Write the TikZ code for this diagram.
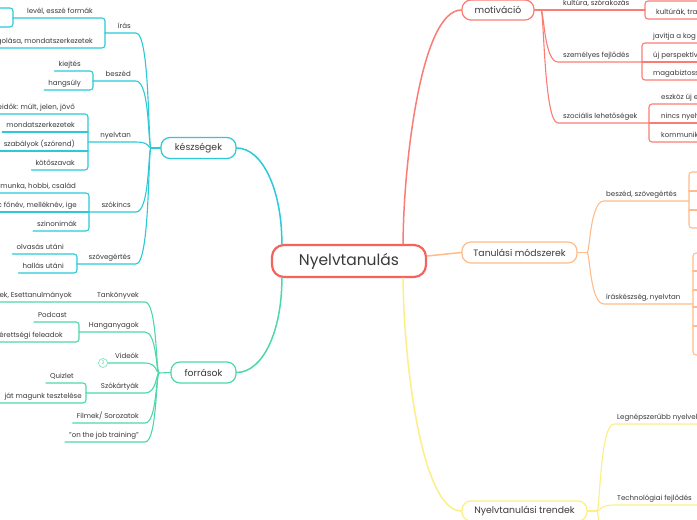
\documentclass[tikz,border=0pt]{standalone}
\usepackage{fontspec}
\setmainfont{Poppins}
\usetikzlibrary{calc}

\definecolor{ink}{HTML}{3A3A3A}
\definecolor{rootred}{HTML}{F4645D}
\definecolor{cskill}{HTML}{2BCAD6}
\definecolor{csource}{HTML}{4ED8AA}
\definecolor{cmotiv}{HTML}{FA7D75}
\definecolor{cmethod}{HTML}{FFBC8A}
\definecolor{ctrend}{HTML}{FCEF86}

\begin{document}
\begin{tikzpicture}[x=1pt, y=-1pt, line cap=round,
  skillline/.style={draw=cskill, line width=1.1pt},
  sourceline/.style={draw=csource, line width=1.1pt},
  motivline/.style={draw=cmotiv, line width=1.1pt},
  methodline/.style={draw=cmethod, line width=1.1pt},
  trendline/.style={draw=ctrend, line width=1.1pt},
  mainline/.style={line width=1.5pt},
  bracket/.style={rounded corners=3pt},
  lbl/.style={inner xsep=4pt, inner ysep=2.5pt, text height=5.5pt, text depth=1.5pt,
    font=\fontsize{7.05}{8}\selectfont, text=ink},
  topic/.style={draw=#1, line width=1.2pt, fill=white, rounded corners=9pt,
    minimum height=21pt, inner sep=0pt, font=\fontsize{9.3}{10}\selectfont, text=ink},
  rootbox/.style={draw=rootred, line width=2.2pt, fill=white, rounded corners=12pt,
    minimum width=154pt, minimum height=32pt, inner sep=0pt,
    font=\fontsize{15.5}{16}\selectfont, text=ink}]

\useasboundingbox (0,0) rectangle (697,520);
\fill[white] (0,0) rectangle (697,520);
\clip (0,0) rectangle (697,520);

% main topics
\node[rootbox] (root) at (349,261) {Nyelvtanulás};
\node[topic=cskill, minimum width=75pt] (kesz) at (198.5,148) {készségek};
\node[topic=csource, minimum width=65pt] (forr) at (203.5,372.5) {források};
\node[topic=cmotiv, minimum width=72pt, minimum height=20pt] (motiv) at (498,10) {motiváció};
\node[topic=cmethod, minimum width=115pt] (tanul) at (519.5,252.5) {Tanulási módszerek};
\node[topic=ctrend, minimum width=125pt, minimum height=20pt] (trend) at (524.5,511) {Nyelvtanulási trendek};

\draw[skillline, mainline] ($(root.north west)+(11,0)$) .. controls +(0,-55) and (262,148) .. (kesz.east);
\draw[sourceline, mainline] ($(root.south west)+(11,0)$) .. controls +(0,55) and (262,372.5) .. (forr.east);
\draw[motivline, mainline] ($(root.north east)+(-24,0)$) .. controls +(0,-73) and (420,10) .. (motiv.west);
\draw[methodline, mainline] ($(root.east)+(0,-5)$) .. controls (444,254) .. (tanul.west);
\draw[trendline, mainline] ($(root.south east)+(-24,0)$) .. controls +(0,73) and (420,511) .. (trend.west);

% készségek
\coordinate (jk) at (151,148);
\draw[skillline] (kesz.west) -- (jk);
\foreach \y/\xb in {33/105, 81/93, 142/88, 212/89, 264/77}
  \draw[skillline] (jk) .. controls +(-3,0) and +(14,0) .. (136,\y) -- (\xb,\y);
\node[lbl, anchor=south east] (iras) at (135,33) {írás};
\node[lbl, anchor=south east] (beszed) at (135,81) {beszéd};
\node[lbl, anchor=south east] (nyelvtan) at (135,142) {nyelvtan};
\node[lbl, anchor=south east] (szokincs) at (135,212) {szókincs};
\node[lbl, anchor=south east] (szoveg) at (135,264) {szövegértés};

\node[lbl, anchor=south east] (level) at (97,18) {levél, esszé formák};
\node[lbl, anchor=south east] (gyakorlas) at (97,48) {golása, mondatszerkezetek};
\draw[skillline, bracket] (13,18) -- (105,18) -- (105,48) -- (-5,48);
\draw[skillline, bracket] (-5,8) -- (13,8) -- (13,27) -- (-5,27);

\node[lbl, anchor=south east] (kiejtes) at (85,71) {kiejtés};
\node[lbl, anchor=south east] (hangsuly) at (85,90) {hangsúly};
\draw[skillline, bracket] (kiejtes.south west) -- (93,71) -- (93,90) -- (hangsuly.south west);

\node[lbl, anchor=south east] (igeido) at (79,114) {eidők: múlt, jelen, jövő};
\node[lbl, anchor=south east] (mondat) at (79,132) {mondatszerkezetek};
\node[lbl, anchor=south east] (szabaly) at (79,151) {szabályok (szórend)};
\node[lbl, anchor=south east] (koto) at (79,170) {kötőszavak};
\draw[skillline, bracket] (-5,114) -- (88,114) -- (88,170) -- (koto.south west);
\draw[skillline] (mondat.south west) -- (88,132);
\draw[skillline] (szabaly.south west) -- (88,151);

\node[lbl, anchor=south east] (tema) at (80,193) {, munka, hobbi, család};
\node[lbl, anchor=south east] (szofaj) at (81,212) {c főnév, melléknév, ige};
\node[lbl, anchor=south east] (szinonima) at (81,231) {szinonimák};
\draw[skillline, bracket] (-5,193) -- (89,193) -- (89,231) -- (szinonima.south west);
\draw[skillline] (-5,212) -- (89,212);

\node[lbl, anchor=south east] (olvasas) at (68,254) {olvasás utáni};
\node[lbl, anchor=south east] (hallas) at (68,273) {hallás utáni};
\draw[skillline, bracket] (olvasas.south west) -- (77,254) -- (77,273) -- (hallas.south west);

% források
\coordinate (jf) at (159,373);
\draw[sourceline] (forr.west) -- (jf);
\foreach \y/\xs in {302/-5, 332/79, 393/86}
  \draw[sourceline] (jf) .. controls +(-3,0) and +(12,0) .. (145,\y) -- (\xs,\y);
\node[lbl, anchor=south east] (tankonyv) at (143,302) {Tankönyvek};
\node[lbl, anchor=south east] (hang) at (143,332) {Hanganyagok};
\node[lbl, anchor=south east] (video) at (143,363) {Videók};
\node[lbl, anchor=south east] (kartya) at (143,393) {Szókártyák};
\node[lbl, anchor=south east] (film) at (143,423) {Filmek/ Sorozatok};
\node[lbl, anchor=south east] (job) at (143,442) {"on the job training"};
\node[draw=csource!70, circle, line width=0.7pt, inner sep=0pt, minimum size=9pt,
  font=\fontsize{5}{5}\selectfont, text=csource] (vcount) at (103,363) {2};
\draw[sourceline] (jf) .. controls +(-3,0) and +(12,0) .. (145,363) -- (vcount.east);
\draw[sourceline] (jf) .. controls +(-3,0) and +(12,0) .. (145,423) -- (film.south west);
\draw[sourceline] (jf) .. controls +(-3,0) and +(12,0) .. (145,442) -- (job.south west);

\node[lbl, anchor=south east] (eset) at (76,302) {ek, Esettanulmányok};
\node[lbl, anchor=south east] (podcast) at (71,322) {Podcast};
\node[lbl, anchor=south east] (erettsegi) at (67,342) {érettségi feleadok};
\draw[sourceline, bracket] (podcast.south west) -- (79,322) -- (79,342) -- (-5,342);
\node[lbl, anchor=south east] (quizlet) at (78,383) {Quizlet};
\node[lbl, anchor=south east] (teszt) at (86,403) {ját magunk tesztelése};
\draw[sourceline, bracket] (quizlet.south west) -- (86,383) -- (86,403) -- (-5,403);

% motiváció
\coordinate (jm) at (541,10);
\draw[motivline] (motiv.east) -- (645,10);
\draw[motivline] (jm) .. controls +(3,0) and +(-14,0) .. (558,62) -- (642,62);
\draw[motivline] (jm) .. controls +(3,0) and +(-14,0) .. (558,123) -- (649,123);
\node[lbl, anchor=south west] (kultura) at (559,10) {kultúra, szórakozás};
\node[lbl, anchor=south west] (szemelyes) at (559,62) {személyes fejlődés};
\node[lbl, anchor=south west] (szocialis) at (559,123) {szociális lehetőségek};

\draw[motivline, bracket] (705,1) -- (645,1) -- (645,19) -- (705,19);
\node[lbl, anchor=south west] (kulturak) at (652,19) {kultúrák, tra};
\draw[motivline, bracket] (705,43) -- (642,43) -- (642,80) -- (705,80);
\draw[motivline] (642,62) -- (705,62);
\node[lbl, anchor=south west] (kogn) at (649,43) {javítja a kog};
\node[lbl, anchor=south west] (persp) at (649,62) {új perspektív};
\node[lbl, anchor=south west] (magab) at (649,80) {magabiztoss};
\draw[motivline, bracket] (705,104) -- (649,104) -- (649,142) -- (705,142);
\draw[motivline] (649,123) -- (705,123);
\node[lbl, anchor=south west] (eszkoz) at (657,104) {eszköz új e};
\node[lbl, anchor=south west] (nincs) at (657,123) {nincs nyelv};
\node[lbl, anchor=south west] (kommun) at (657,142) {kommunik};

% Tanulási módszerek
\coordinate (jt) at (587,252.5);
\draw[methodline] (tanul.east) -- (jt);
\draw[methodline] (jt) .. controls +(3,0) and +(-14,0) .. (604,201) -- (689,201);
\draw[methodline] (jt) .. controls +(3,0) and +(-14,0) .. (604,304) -- (693,304);
\node[lbl, anchor=south west] (beszszov) at (602,201) {beszéd, szövegértés};
\node[lbl, anchor=south west] (irasny) at (602,304) {íráskészség, nyelvtan};
\draw[methodline, bracket] (705,172) -- (689,172) -- (689,228) -- (705,228);
\foreach \y in {191,210} \draw[methodline] (689,\y) -- (705,\y);
\draw[methodline, bracket] (705,253) -- (693,253) -- (693,355) -- (705,355);
\foreach \y in {271,290,307,326} \draw[methodline] (693,\y) -- (705,\y);

% Nyelvtanulási trendek
\coordinate (jy) at (597,511);
\draw[trendline] (trend.east) -- (jy);
\draw[trendline] (jy) .. controls +(3,0) and +(-14,0) .. (614,424) -- (705,424);
\draw[trendline] (jy) .. controls +(3,0) and +(-14,0) .. (614,505) -- (705,505);
\draw[trendline] (jy) .. controls +(3,0) and +(-14,0) .. (614,600);
\node[lbl, anchor=south west] (nepszeru) at (613,424) {Legnépszerűbb nyelvek};
\node[lbl, anchor=south west] (techno) at (613,505) {Technológiai fejlődés};

\end{tikzpicture}
\end{document}
